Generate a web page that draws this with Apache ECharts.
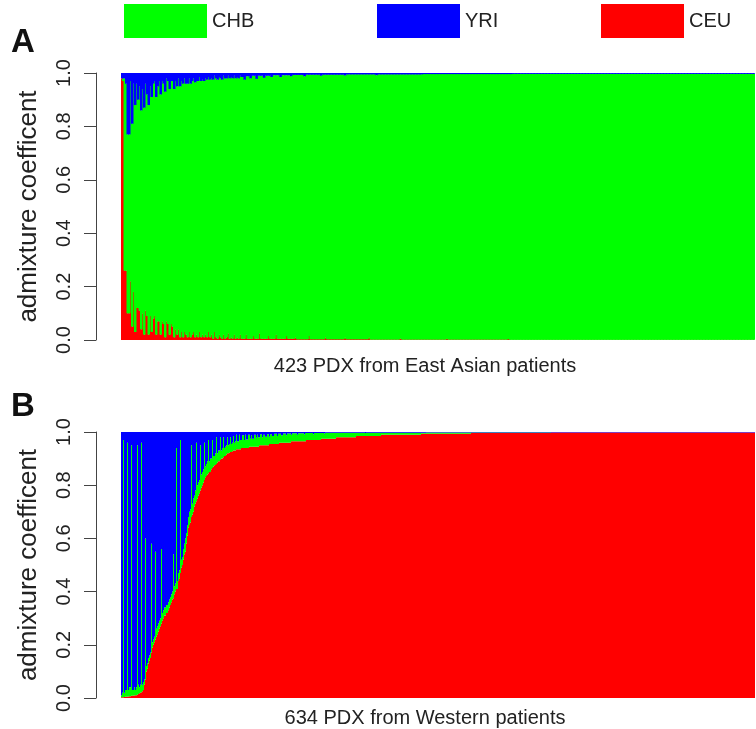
<!DOCTYPE html>
<html><head><meta charset="utf-8">
<script src="https://cdn.jsdelivr.net/npm/echarts@6.0.0/dist/echarts.min.js"></script>
<style>html,body{margin:0;padding:0;background:#fff}#c{width:756px;height:729px}</style>
</head><body><div id="c"></div>
<script>
// ---------------- data ----------------
const legendNames = ['CHB', 'YRI', 'CEU'];
const xTitleA = '423 PDX from East Asian patients';
const xTitleB = '634 PDX from Western patients';
const yTitle = 'admixture coefficent';
const yTickValues = [0.0, 0.2, 0.4, 0.6, 0.8, 1.0];
const nA = 423;
const nB = 634;

// Panel A: first 80 samples, read one by one (CEU = bottom red, YRI = top blue)
const ceuA_head = [0.98,0.97,0.26,0.26,0.10,0.10,0.22,0.05,0.18,0.03,
  0.12,0.12,0.11,0.04,0.10,0.02,0.11,0.09,0.02,0.09,
  0.03,0.08,0.09,0.02,0.07,0.07,0.02,0.07,0.06,0.01,
  0.07,0.06,0.02,0.06,0.05,0.01,0.04,0.02,0.04,0.01,
  0.03,0.01,0.03,0.02,0.01,0.03,0.01,0.02,0.03,0.01,
  0.02,0.01,0.03,0.01,0.02,0.01,0.02,0.01,0.03,0.01,
  0.02,0.005,0.03,0.01,0.005,0.02,0.01,0.005,0.02,0.005,
  0.01,0.025,0.005,0.01,0.005,0.02,0.005,0.01,0.005,0.02];
const yriA_head = [0.02,0.02,0.02,0.04,0.23,0.23,0.03,0.19,0.04,0.12,
  0.04,0.10,0.05,0.14,0.06,0.13,0.04,0.08,0.12,0.05,
  0.09,0.04,0.03,0.09,0.05,0.03,0.08,0.03,0.04,0.07,
  0.02,0.03,0.06,0.03,0.03,0.06,0.03,0.05,0.02,0.05,
  0.03,0.04,0.02,0.04,0.04,0.02,0.04,0.03,0.02,0.035,
  0.03,0.03,0.015,0.03,0.025,0.03,0.02,0.025,0.015,0.025,
  0.02,0.025,0.01,0.02,0.025,0.015,0.02,0.025,0.01,0.02,
  0.02,0.01,0.02,0.015,0.02,0.01,0.02,0.015,0.02,0.01];
// Panel A: remaining samples as [value, count] runs
const ceuA_tail = [[0.005,3],[0.02,1],[0.005,4],[0.015,1],[0.005,3],[0.025,1],[0.005,5],[0.015,1],
  [0.005,4],[0.02,1],[0.005,6],[0.015,1],[0.005,5],[0.01,1],[0.003,8],[0.015,1],[0.003,10],[0.01,1],
  [0.003,12],[0.008,1],[0.003,15],[0.01,1],[0.002,20],[0.006,1],[0.002,30],[0.005,1],[0.002,40],
  [0.004,1],[0.001,164]];
const yriA_tail = [[0.015,2],[0.025,1],[0.012,3],[0.02,1],[0.01,3],[0.022,1],[0.01,4],[0.018,1],
  [0.01,4],[0.015,1],[0.008,5],[0.015,1],[0.008,6],[0.012,1],[0.007,8],[0.012,1],[0.006,10],[0.01,1],
  [0.006,15],[0.009,1],[0.005,20],[0.008,1],[0.005,30],[0.004,60],[0.003,162]];

// Panel B: first 115 samples, read one by one
const ceuB_head = [0.003,0.003,0.003,0.004,
  0.005,0.005,0.006,0.006,0.007,0.007,0.008,0.008,0.009,0.009,0.01,0.01,0.012,
  0.015,0.018,0.02,0.022,0.025,0.03,
  0.05,0.07,0.10,0.11,0.13,0.14,0.15,0.17,0.19,0.20,
  0.21,0.22,0.23,0.24,0.25,0.26,0.27,0.28,0.29,0.30,
  0.31,0.31,0.32,0.32,0.33,0.34,0.35,0.36,0.37,0.375,
  0.39,0.40,0.41,0.41,0.44,0.45,0.47,0.49,0.50,
  0.52,0.54,0.55,0.58,0.61,0.64,0.65,0.66,0.68,0.69,
  0.70,0.72,0.73,0.74,0.75,0.76,0.77,0.78,
  0.79,0.80,0.81,0.82,0.83,0.835,0.84,0.845,0.85,0.85,
  0.86,0.865,0.87,0.875,0.876,0.88,0.885,0.89,0.89,0.895,0.90,0.90,
  0.905,0.91,0.91,0.915,0.92,0.92,0.922,0.925,0.925,0.928,0.93,0.93,0.93];
const yriB_head = [0.99,0.98,0.03,0.98,0.97,0.97,0.04,0.97,0.96,0.96,
  0.05,0.97,0.97,0.96,0.97,0.96,0.05,0.95,0.96,0.95,
  0.04,0.95,0.94,0.93,0.40,0.88,0.87,0.85,0.84,0.83,
  0.42,0.79,0.78,0.77,0.45,0.74,0.73,0.72,0.71,0.70,
  0.44,0.68,0.67,0.66,0.66,0.65,0.65,0.64,0.63,0.62,
  0.61,0.60,0.46,0.58,0.57,0.06,0.56,0.53,0.52,0.03,
  0.48,0.47,0.44,0.42,0.40,0.38,0.35,0.32,0.30,0.29,
  0.05,0.27,0.25,0.24,0.22,0.04,0.20,0.19,0.18,0.05,
  0.16,0.15,0.14,0.04,0.13,0.12,0.11,0.03,0.11,0.10,
  0.10,0.03,0.09,0.09,0.08,0.02,0.08,0.07,0.07,0.02,
  0.07,0.06,0.02,0.06,0.055,0.05,0.02,0.05,0.045,0.02,
  0.045,0.04,0.015,0.04,0.035];
// Panel B: remaining samples as [value, count] runs
const ceuB_tail = [[0.935,5],[0.94,8],[0.945,10],[0.95,10],[0.955,10],[0.96,12],[0.965,15],[0.97,15],
  [0.975,15],[0.98,20],[0.985,25],[0.99,40],[0.993,50],[0.996,80],[0.998,204]];
const yriB_tail = [[0.01,1],[0.035,2],[0.01,1],[0.03,2],[0.012,2],[0.03,1],[0.01,1],[0.028,2],[0.01,2],
  [0.025,1],[0.012,1],[0.025,2],[0.01,2],[0.022,1],[0.01,1],[0.02,2],[0.008,2],[0.02,1],[0.01,2],
  [0.018,2],[0.008,2],[0.018,1],[0.008,2],[0.015,2],[0.007,3],[0.015,1],[0.007,3],[0.012,2],[0.006,3],
  [0.012,1],[0.006,4],[0.01,1],[0.005,5],[0.01,1],[0.005,6],[0.008,1],[0.004,8],[0.008,1],[0.004,10],
  [0.006,1],[0.003,40],[0.004,1],[0.003,60],[0.002,329]];

// ---------------- build ----------------
function expand(head, runs, n) {
  const out = head.slice();
  runs.forEach(([v, c]) => { for (let k = 0; k < c; k++) out.push(v); });
  while (out.length < n) out.push(out[out.length - 1]);
  return out.slice(0, n);
}
const ceuA = expand(ceuA_head, ceuA_tail, nA);
const yriA = expand(yriA_head, yriA_tail, nA);
const chbA = ceuA.map((c, i) => Math.max(0, +(1 - c - yriA[i]).toFixed(4)));
const ceuB = expand(ceuB_head, ceuB_tail, nB);
const yriB = expand(yriB_head, yriB_tail, nB);
const chbB = ceuB.map((c, i) => Math.max(0, +(1 - c - yriB[i]).toFixed(4)));

const FONT = 'Liberation Sans, Arial, Helvetica, sans-serif';
const colors = { CHB: '#00FF00', YRI: '#0000FF', CEU: '#FF0000' };
const legendLeft = { CHB: 124, YRI: 377, CEU: 601 };

const chart = echarts.init(document.getElementById('c'), null, { renderer: 'canvas' });

function xAxisFor(grid, n, title, gap) {
  return {
    type: 'category', gridIndex: grid, data: Array.from({ length: n }, (_, i) => i + 1),
    axisLine: { show: false }, axisTick: { show: false }, axisLabel: { show: false },
    splitLine: { show: false },
    name: title, nameLocation: 'middle', nameGap: gap,
    nameTextStyle: { fontSize: 20, color: '#222', fontFamily: FONT, padding: [0, 26, 0, 0] }
  };
}
function yAxisFor(grid) {
  return {
    type: 'value', gridIndex: grid, min: 0, max: 1, interval: 0.2, offset: 25,
    axisLine: { show: true, lineStyle: { color: '#444', width: 1 } },
    axisTick: { show: true, length: 12, lineStyle: { color: '#444', width: 1 } },
    axisLabel: { rotate: 90, margin: 22, fontSize: 20, color: '#222', fontFamily: FONT,
      formatter: v => v.toFixed(1) },
    splitLine: { show: false },
    name: yTitle, nameLocation: 'middle', nameGap: 54,
    nameTextStyle: { fontSize: 26, color: '#222', fontFamily: FONT }
  };
}
function barSeries(name, data, axisIdx, stack, width) {
  return {
    type: 'bar', name, data, xAxisIndex: axisIdx, yAxisIndex: axisIdx, stack,
    barWidth: width, barGap: '-100%', barCategoryGap: '0%',
    itemStyle: { color: colors[name] },
    emphasis: { disabled: true }, silent: true, animation: false
  };
}

chart.setOption({
  animation: false,
  backgroundColor: '#fff',
  textStyle: { fontFamily: FONT },
  legend: legendNames.map(nm => ({
    data: [nm], left: legendLeft[nm], top: 4, padding: 0, itemGap: 0,
    itemWidth: 83, itemHeight: 34, icon: 'rect', selectedMode: false,
    textStyle: { fontSize: 20, color: '#222', fontFamily: FONT }
  })),
  grid: [
    { left: 121, top: 73, width: 634, height: 267, outerBoundsMode: 'none' },
    { left: 121, top: 432, width: 634, height: 266, outerBoundsMode: 'none' }
  ],
  xAxis: [xAxisFor(0, nA, xTitleA, 16), xAxisFor(1, nB, xTitleB, 10)],
  yAxis: [yAxisFor(0), yAxisFor(1)],
  graphic: [
    { type: 'text', left: 11, top: 26, style: { text: 'A', font: 'bold 33px ' + FONT, fill: '#111' } },
    { type: 'text', left: 11, top: 390, style: { text: 'B', font: 'bold 33px ' + FONT, fill: '#111' } }
  ],
  series: [
    barSeries('CEU', ceuA, 0, 'a', 2.5),
    barSeries('CHB', chbA, 0, 'a', 2.5),
    barSeries('YRI', yriA, 0, 'a', 2.5),
    barSeries('CEU', ceuB, 1, 'b', '100%'),
    barSeries('CHB', chbB, 1, 'b', '100%'),
    barSeries('YRI', yriB, 1, 'b', '100%')
  ]
});
</script></body></html>
